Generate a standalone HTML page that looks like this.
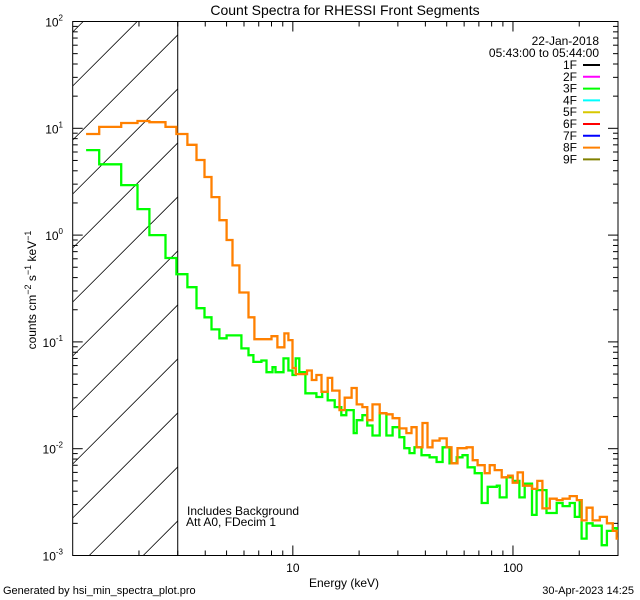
<!DOCTYPE html>
<html><head><meta charset="utf-8"><style>
html,body{margin:0;padding:0;background:#fff;}
svg{display:block;font-family:"Liberation Sans",sans-serif;}
</style></head><body>
<svg id="chart" width="640" height="600" viewBox="0 0 640 600">
<rect width="640" height="600" fill="#fff"/>
<text x="345" y="15" font-size="14" text-anchor="middle">Count Spectra for RHESSI Front Segments</text>
<g id="hatch"></g>
<g id="axes"></g>
<g id="series"></g>
<text transform="translate(36,290) rotate(-90)" font-size="12" text-anchor="middle">counts cm<tspan dy="-5" font-size="9">−2</tspan><tspan dy="5"> s</tspan><tspan dy="-5" font-size="9">−1</tspan><tspan dy="5"> keV</tspan><tspan dy="-5" font-size="9">−1</tspan></text>
<text x="344" y="587" font-size="12" text-anchor="middle">Energy (keV)</text>
<text x="187" y="515" font-size="12">Includes Background</text>
<text x="186" y="526" font-size="12">Att A0, FDecim 1</text>
<text x="3" y="594" font-size="11">Generated by hsi_min_spectra_plot.pro</text>
<text x="634" y="594" font-size="11" text-anchor="end">30-Apr-2023 14:25</text>
<text x="599" y="45" font-size="12" text-anchor="end">22-Jan-2018</text>
<text x="599" y="57" font-size="12" text-anchor="end">05:43:00 to 05:44:00</text>
<g id="legend"></g>
</svg>
<script>
const NS="http://www.w3.org/2000/svg";
const greenE=[1.15,1.32,1.66,1.97,2.23,2.64,2.96,3.32,3.65,3.97,4.27,4.64,5.0,5.84,6.29,6.62,7.2,7.59,8.08,8.34,9.07,9.55,9.97,10.3,10.7,11.4,11.9,12.8,13.6,14.4,15.5,16.6,17.5,18.9,19.5,20.7,21.8,23.0,24.8,26.6,28.4,30.5,32.1,33.9,35.7,38.4,41.8,45.0,47.9,51.5,55.5,59.0,62.2,67.0,72.1,76.8,84.4,87.0,93.6,99.7,107,113,122,128,142,158,168,181,191,201,205,216,230,253,267,284,296,300];
const greenV=[6.25,4.6,2.94,1.75,1.0,0.61,0.43,0.325,0.207,0.17,0.131,0.108,0.115,0.087,0.075,0.065,0.067,0.052,0.058,0.052,0.070,0.054,0.049,0.070,0.052,0.033,0.033,0.0305,0.034,0.0284,0.0245,0.0206,0.023,0.014,0.0185,0.0206,0.0165,0.0133,0.0215,0.0133,0.0159,0.0128,0.0101,0.0091,0.0103,0.0087,0.0083,0.0075,0.0103,0.0073,0.0083,0.0087,0.0067,0.0059,0.0031,0.0044,0.0045,0.0035,0.0054,0.0050,0.0035,0.0047,0.0024,0.0041,0.0025,0.0031,0.0029,0.0031,0.0023,0.0033,0.00144,0.0020,0.0019,0.00125,0.0017,0.0018,0.0017];
const orangeE=[1.15,1.32,1.66,1.97,2.23,2.64,2.96,3.32,3.65,3.97,4.27,4.64,5.0,5.32,5.72,6.29,6.69,8.0,8.51,9.16,9.55,9.97,10.3,11.6,12.2,12.8,13.5,14.4,15.1,16.3,17.2,18.5,19.5,20.7,21.8,23.0,24.8,26.6,28.4,30.5,32.8,34.6,36.5,38.8,40.9,43.1,46.4,50.0,52.6,56.0,61.6,65.6,69.1,74.4,78.4,82.6,88.9,95,99.7,105,111,122,129,136,147,158,168,181,195,205,216,230,248,267,284,296,300];
const orangeV=[8.85,10.3,11.2,11.7,11.4,10.3,8.85,7.0,5.05,3.5,2.27,1.38,0.90,0.52,0.29,0.17,0.106,0.113,0.089,0.12,0.104,0.057,0.050,0.054,0.044,0.049,0.034,0.046,0.035,0.023,0.030,0.037,0.026,0.0245,0.0185,0.026,0.0215,0.021,0.0193,0.0155,0.0140,0.0159,0.0103,0.0174,0.0103,0.0119,0.0125,0.0103,0.0073,0.0101,0.0103,0.0078,0.0070,0.0059,0.0070,0.0063,0.0054,0.0056,0.0048,0.0060,0.0045,0.0042,0.0050,0.00276,0.0034,0.0033,0.0034,0.0036,0.0033,0.00213,0.0028,0.00213,0.0023,0.0020,0.0017,0.00144];
const yTickExps=[-3,-2,-1,0,1,2];
const xTickLabels=[10,100];
const legendLabels=["1F","2F","3F","4F","5F","6F","7F","8F","9F"];
const legendColors=["#000000","#ff00ff","#00ff00","#00ffff","#d8c800","#ff0000","#0000ff","#ff8000","#808000"];

const L=72.7,R=618,T=21.5,B=555.5;
const xMinL=0,xMaxL=Math.log10(300);
const yMinL=-3,yMaxL=2;
const X=e=>L+(Math.log10(e)-xMinL)/(xMaxL-xMinL)*(R-L);
const Y=v=>B-(Math.log10(v)-yMinL)/(yMaxL-yMinL)*(B-T);
function mk(tag,attrs,parent){const el=document.createElementNS(NS,tag);for(const k in attrs)el.setAttribute(k,attrs[k]);parent.appendChild(el);return el;}

// hatch
const hatch=document.getElementById('hatch');
const xr=X(3);
for(let k=-3;k<12;k++){
  const c=86+54*k;
  let x1=L,y1=c,x2=xr,y2=c-(xr-L);
  if(y1>B){x1=L+(y1-B);y1=B;}
  if(y2<T){x2=L+(c-T);y2=T;}
  if(x1>=x2)continue;
  const ln=mk('line',{x1:x1,y1:y1,x2:x2,y2:y2,stroke:'#000','stroke-width':0.8},hatch);
  
  
}
const vl=mk('line',{x1:xr,y1:T,x2:xr,y2:B,stroke:'#000','stroke-width':1},hatch);



// axes
const ax=document.getElementById('axes');
const frame=mk('rect',{x:L,y:T,width:R-L,height:B-T,fill:'none',stroke:'#000','stroke-width':1},ax);


for(let d=0;d<3;d++)for(let m=1;m<10;m++){
  const e=m*Math.pow(10,d); if(e>300||(d===0&&m===1))continue;
  const x=X(e),len=m===1?10:5;
  const t1=mk('line',{x1:x,y1:B,x2:x,y2:B-len,stroke:'#000'},ax);
  
  
  const t2=mk('line',{x1:x,y1:T,x2:x,y2:T+len,stroke:'#000'},ax);
  
  
}
xTickLabels.forEach(v=>{
  const t=mk('text',{x:X(v),y:572,'font-size':12,'text-anchor':'middle'},ax);
  t.textContent=v;
  
  
});
for(let d=-3;d<2;d++)for(let m=1;m<10;m++){
  const v=m*Math.pow(10,d); const y=Y(v),len=m===1?10:5;
  if(m===1&&d===-3)continue;
  const t1=mk('line',{x1:L,y1:y,x2:L+len,y2:y,stroke:'#000'},ax);
  
  
  const t2=mk('line',{x1:R,y1:y,x2:R-len,y2:y,stroke:'#000'},ax);
  
  
}
yTickExps.forEach(p=>{
  const y=Y(Math.pow(10,p));
  const t=mk('text',{x:63,y:y+5,'font-size':12,'text-anchor':'end'},ax);
  t.textContent='10';
  const s=mk('tspan',{dy:-6,'font-size':8},t); s.textContent=String(p);
  
  
});

// series
const sg=document.getElementById('series');
function step(E,V,color,name){
  let d='';
  for(let i=0;i<V.length;i++){
    const x1=X(E[i]),x2=X(E[i+1]),y=Y(V[i]);
    d+=(i===0?'M':'L')+x1.toFixed(1)+','+y.toFixed(1)+'L'+x2.toFixed(1)+','+y.toFixed(1);
  }
  const p=mk('path',{d:d,fill:'none',stroke:color,'stroke-width':2.3},sg);
  
  
}
step(greenE,greenV,'#00ff00','series-3f');
step(orangeE,orangeV,'#ff8000','series-8f');

// legend
const lg=document.getElementById('legend');
legendLabels.forEach((lab,i)=>{
  const y=69+i*11.8;
  const t=mk('text',{x:577,y:y,'font-size':12,'text-anchor':'end'},lg);
  t.textContent=lab;
  
  
  const l=mk('line',{x1:583,y1:y-4,x2:600,y2:y-4,stroke:legendColors[i],'stroke-width':2},lg);
  
  
});
</script>
</body></html>
